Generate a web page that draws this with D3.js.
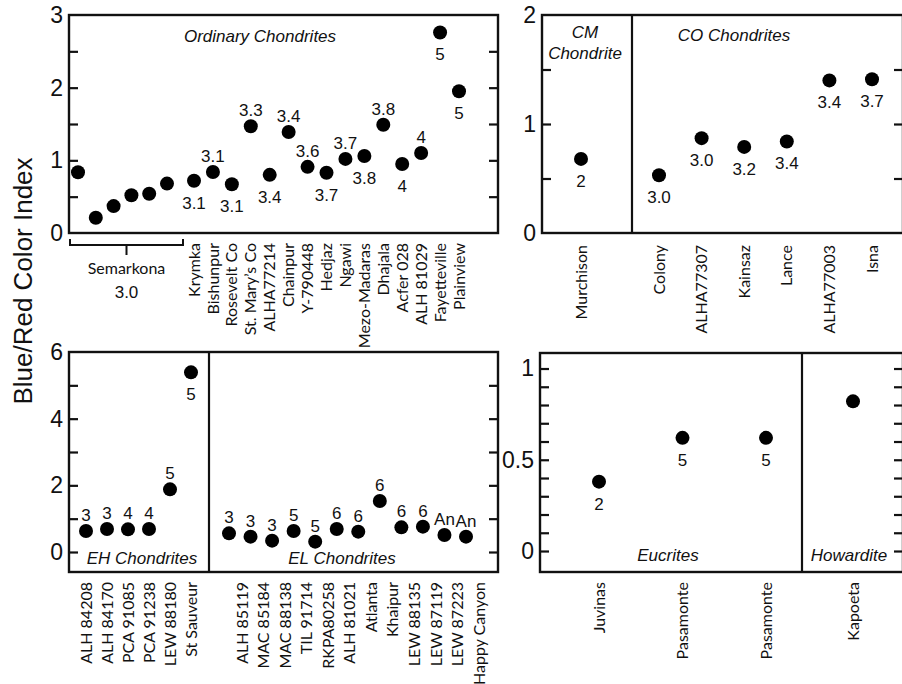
<!DOCTYPE html>
<html>
<head>
<meta charset="utf-8">
<script src="https://cdn.jsdelivr.net/npm/d3@7"></script>
<style>
  body { margin: 0; background: #fff; }
  svg { display: block; }
  .tick text { font-family: "Liberation Sans", Arial, sans-serif; font-size: 23px; fill: #111; }
  .tick line { stroke: #111; stroke-width: 2.2; }
  .ptlab { font-family: "Liberation Sans", Arial, sans-serif; font-size: 17px; fill: #111; text-anchor: middle; }
  .name { font-family: Lato, "Open Sans", sans-serif; font-size: 16px; fill: #111; text-anchor: end; }
  .title { font-family: "Liberation Sans", Arial, sans-serif; font-size: 17px; font-style: italic; fill: #111; text-anchor: middle; }
</style>
</head>
<body>
<script>
// Blue/Red colour index of chondrites and achondrites (four panels)

// --- data -------------------------------------------------------------
// Ordinary chondrites
const semarkonaCI = [0.835, 0.21, 0.37, 0.52, 0.54, 0.68];
const ordNames = ["Krymka", "Bishunpur", "Rosevelt Co", "St. Mary\u2019s Co", "ALHA77214", "Chainpur",
    "Y-790448", "Hedjaz", "Ngawi", "Mezo-Madaras", "Dhajala", "Acfer 028", "ALH 81029",
    "Fayetteville", "Plainview"];
const ordCI = [0.72, 0.84, 0.67, 1.47, 0.80, 1.39, 0.91, 0.83, 1.02, 1.06, 1.49, 0.95, 1.10, 2.76, 1.95];
const ordType = ["3.1", "3.1", "3.1", "3.3", "3.4", "3.4", "3.6", "3.7", "3.7", "3.8", "3.8", "4", "4", "5", "5"];
const ordSide = ["below", "above", "below", "above", "below", "above", "above", "below", "above",
    "below", "above", "below", "above", "below", "below"];

// CM and CO chondrites
const cmNames = ["Murchison"];
const cmCI = [0.68];
const cmType = ["2"];
const coNames = ["Colony", "ALHA77307", "Kainsaz", "Lance", "ALHA77003", "Isna"];
const coCI = [0.53, 0.87, 0.79, 0.84, 1.40, 1.41];
const coType = ["3.0", "3.0", "3.2", "3.4", "3.4", "3.7"];

// EH and EL chondrites
const ehNames = ["ALH 84208", "ALH 84170", "PCA 91085", "PCA 91238", "LEW 88180", "St Sauveur"];
const ehCI = [0.63, 0.69, 0.68, 0.69, 1.88, 5.39];
const ehType = ["3", "3", "4", "4", "5", "5"];
const ehSide = ["above", "above", "above", "above", "above", "below"];
const elNames = ["ALH 85119", "MAC 85184", "MAC 88138", "TIL 91714", "RKPA80258", "ALH 81021",
    "Atlanta", "Khaipur", "LEW 88135", "LEW 87119", "LEW 87223", "Happy Canyon"];
const elCI = [0.56, 0.46, 0.34, 0.63, 0.31, 0.69, 0.61, 1.53, 0.74, 0.76, 0.51, 0.46];
const elType = ["3", "3", "3", "5", "5", "6", "6", "6", "6", "6", "An", "An"];

// Eucrites and howardite
const eucNames = ["Juvinas", "Pasamonte", "Pasamonte"];
const eucCI = [0.38, 0.62, 0.62];
const eucType = ["2", "5", "5"];
const howNames = ["Kapoeta"];
const howCI = [0.82];

// axis ticks
const tlTicks = [0.5, 1, 1.5, 2, 2.5], tlLabels = [0, 1, 2, 3];
const trTicks = [0.5, 1, 1.5], trLabels = [0, 1, 2];
const blTicks = [0, 1, 2, 3, 4, 5], blLabels = [0, 2, 4, 6];
const brTicks = [0, 0.1, 0.2, 0.3, 0.4, 0.5, 0.6, 0.7, 0.8, 0.9, 1], brLabels = [0, 0.5, 1];

// --- drawing ----------------------------------------------------------
const svg = d3.select("body").append("svg").attr("width", 902).attr("height", 684);

function panel(p) {
    // Frame, inner ticks on both sides, labels on the left
    const g = svg.append("g");
    const y = d3.scaleLinear().domain(p.domain).range([p.bottom, p.top]);
    const noDomain = s => s.select(".domain").remove();

    g.append("g").attr("transform", `translate(${p.left},0)`)
        .call(d3.axisRight(y).tickValues(p.ticks).tickSize(9).tickFormat("")).call(noDomain);
    g.append("g").attr("transform", `translate(${p.right},0)`)
        .call(d3.axisLeft(y).tickValues(p.ticks).tickSize(9).tickFormat("")).call(noDomain);
    g.append("g").attr("transform", `translate(${p.left},0)`)
        .call(d3.axisLeft(y).tickValues(p.labels).tickSize(0).tickPadding(6).tickFormat(d => String(d)))
        .call(noDomain);

    g.append("rect")
        .attr("x", p.left).attr("y", p.top)
        .attr("width", p.right - p.left).attr("height", p.bottom - p.top)
        .attr("fill", "none").attr("stroke", "#111").attr("stroke-width", 2.4);

    for (let d of (p.dividers || [])) {
        g.append("line")
            .attr("x1", d).attr("x2", d).attr("y1", p.top).attr("y2", p.bottom)
            .attr("stroke", "#111").attr("stroke-width", 2.2);
    }
    for (let t of (p.titles || [])) {
        g.append("text").attr("class", "title")
            .attr("x", t.x).attr("y", t.y).text(t.text);
    }
    return {g: g, y: y};
}

function group(pn, grp) {
    // Dots, petrologic type labels and rotated sample names for one group
    const x = d3.scalePoint().domain(d3.range(grp.ci.length)).range(grp.range);
    const y = pn.y;
    const rows = grp.ci.map((v, i) => ({
        i: i, v: v,
        name: grp.names ? grp.names[i] : null,
        type: grp.types ? grp.types[i] : "",
        side: grp.sides ? grp.sides[i] : (grp.side || "below")
    }));

    pn.g.selectAll(null).data(rows).enter()
        .append("circle")
        .attr("cx", d => x(d.i)).attr("cy", d => y(d.v))
        .attr("r", 7).attr("fill", "#000");

    pn.g.selectAll(null).data(rows.filter(d => d.type)).enter()
        .append("text").attr("class", "ptlab")
        .attr("x", d => x(d.i))
        .attr("y", d => y(d.v) + (d.side === "above" ? -10 : 28))
        .text(d => d.type);

    if (grp.names) {
        pn.g.selectAll(null).data(rows).enter()
            .append("text").attr("class", "name")
            .attr("transform", d => `translate(${x(d.i) + (grp.nameShift || 0)},${grp.nameTop}) rotate(-90)`)
            .attr("dy", "0.35em")
            .text(d => d.name);
    }
    return x;
}

// Top left: ordinary chondrites
const tl = panel({left: 69, right: 498, top: 15, bottom: 233, domain: [0, 3],
    ticks: tlTicks, labels: tlLabels,
    titles: [{x: 260, y: 42, text: "Ordinary Chondrites"}]});
const semX = group(tl, {ci: semarkonaCI, range: [78, 167]});
group(tl, {names: ordNames, ci: ordCI, types: ordType, sides: ordSide, range: [194, 459], nameTop: 243});

// Semarkona bracket
const bx0 = semX.range()[0] - 8, bx1 = semX.range()[1] + 16, bxm = (bx0 + bx1) / 2;
tl.g.append("path")
    .attr("d", `M${bx0},239V245H${bx1}V239M${bxm},245V255`)
    .attr("fill", "none").attr("stroke", "#111").attr("stroke-width", 2);
tl.g.append("text").attr("class", "name").style("text-anchor", "middle")
    .attr("x", bxm).attr("y", 274).text("Semarkona");
tl.g.append("text").attr("class", "ptlab")
    .attr("x", bxm).attr("y", 298).text("3.0");

// Top right: CM and CO chondrites
const tr = panel({left: 542, right: 903, top: 15, bottom: 233, domain: [0, 2],
    ticks: trTicks, labels: trLabels, dividers: [632],
    titles: [{x: 585, y: 38, text: "CM"}, {x: 585, y: 59, text: "Chondrite"},
             {x: 734, y: 41, text: "CO Chondrites"}]});
group(tr, {names: cmNames, ci: cmCI, types: cmType, range: [581, 581], nameTop: 245});
group(tr, {names: coNames, ci: coCI, types: coType, range: [659, 872], nameTop: 245});

// Bottom left: EH and EL chondrites
const bl = panel({left: 69, right: 498, top: 352, bottom: 572, domain: [-0.6, 6],
    ticks: blTicks, labels: blLabels, dividers: [209],
    titles: [{x: 142, y: 564, text: "EH Chondrites"}, {x: 342, y: 564, text: "EL Chondrites"}]});
group(bl, {names: ehNames, ci: ehCI, types: ehType, sides: ehSide, range: [86, 191], nameTop: 582});
group(bl, {names: elNames, ci: elCI, types: elType, side: "above", range: [229, 466], nameTop: 582, nameShift: 13});

// Bottom right: eucrites and howardite
const br = panel({left: 540, right: 903, top: 353, bottom: 572, domain: [-0.115, 1.085],
    ticks: brTicks, labels: brLabels, dividers: [802],
    titles: [{x: 668, y: 561, text: "Eucrites"}, {x: 849, y: 561, text: "Howardite"}]});
group(br, {names: eucNames, ci: eucCI, types: eucType, range: [599, 766], nameTop: 582});
group(br, {names: howNames, ci: howCI, range: [853, 853], nameTop: 582});

// Shared y axis title
svg.append("text")
    .attr("transform", "translate(32,281) rotate(-90)")
    .attr("text-anchor", "middle")
    .style("font-family", "'Liberation Sans', Arial, sans-serif")
    .style("font-size", "26px").style("fill", "#111")
    .text("Blue/Red Color Index");
</script>
</body>
</html>
